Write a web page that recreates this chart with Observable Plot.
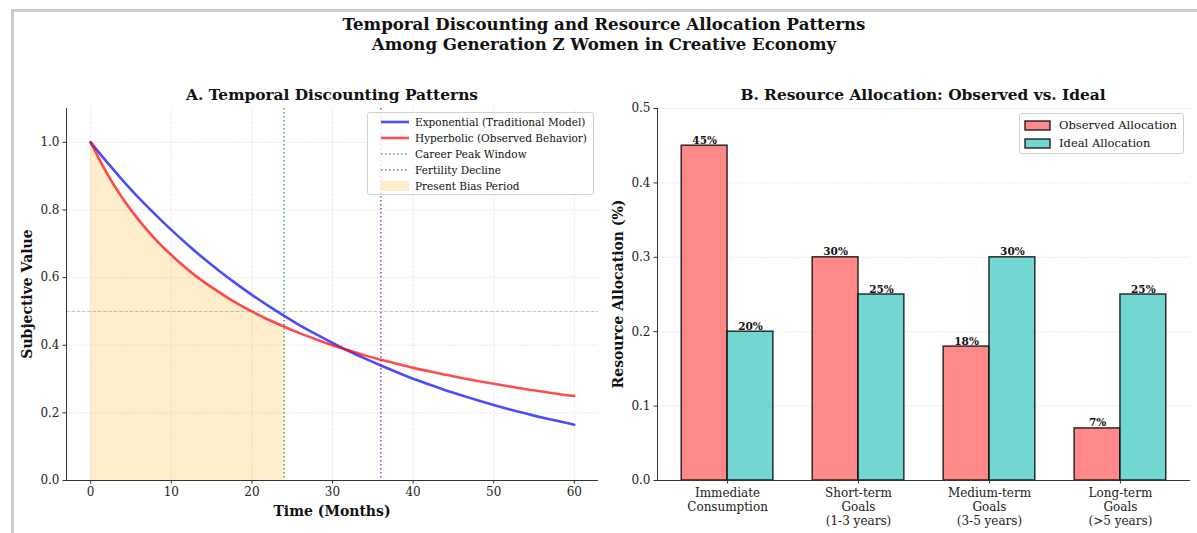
<!DOCTYPE html>
<html>
<head>
<meta charset="utf-8">
<script src="https://cdn.jsdelivr.net/npm/d3@7"></script>
<script src="https://cdn.jsdelivr.net/npm/@observablehq/plot@0.6"></script>
<style>
  body { margin: 0; background: #fff; font-family: "DejaVu Serif", serif; color: #111; }
  #fig { position: relative; width: 1197px; height: 533px; overflow: hidden; background: #fff; }
  .abs { position: absolute; white-space: nowrap; }
  .c { transform: translate(-50%, -50%); }
  .rot { transform: translate(-50%, -50%) rotate(-90deg); }
  .bold { font-weight: bold; }
  .legend { position: absolute; background: rgba(255,255,255,0.8); border: 1px solid #d0d0d0; border-radius: 3px; box-sizing: border-box; }
  .legend .row { position: absolute; left: 0; display: flex; align-items: center; white-space: nowrap; }
  .legend svg { display: block; }
  svg.plot { position: absolute; top: 0; }
</style>
</head>
<body>
<div id="fig"></div>
<script>
// ---------- Data: Panel A ----------
const months = [0,2,4,6,8,10,12,14,16,18,20,22,24,26,28,30,32,34,36,38,40,42,44,46,48,50,52,54,56,58,60];
const exponentialValues = [1.000,0.942,0.887,0.835,0.787,0.741,0.698,0.657,0.619,0.583,0.549,0.517,0.487,0.458,0.432,0.407,0.383,0.361,0.340,0.320,0.301,0.284,0.267,0.252,0.237,0.223,0.210,0.198,0.186,0.176,0.165];
const hyperbolicValues  = [1.000,0.909,0.833,0.769,0.714,0.667,0.625,0.588,0.556,0.526,0.500,0.476,0.455,0.435,0.417,0.400,0.385,0.370,0.357,0.345,0.333,0.323,0.313,0.303,0.294,0.286,0.278,0.270,0.263,0.256,0.250];
const careerPeakMonth = [24];
const fertilityDeclineMonth = [36];
const presentBiasEnd = 24;
const referenceValue = [0.5];
const timeTicks = [0,10,20,30,40,50,60];
const valueTicks = [0,0.2,0.4,0.6,0.8,1.0];

// ---------- Data: Panel B ----------
const categories = ["Immediate\nConsumption", "Short-term\nGoals\n(1-3 years)", "Medium-term\nGoals\n(3-5 years)", "Long-term\nGoals\n(>5 years)"];
const observedAllocation = [0.45, 0.30, 0.18, 0.07];
const idealAllocation = [0.20, 0.25, 0.30, 0.25];
const allocationTicks = [0,0.1,0.2,0.3,0.4,0.5];

// ---------- Styles ----------
const BAR_W = 0.35;
const FONT = "DejaVu Serif";
const gridStyle = { stroke: "#b0b0b0", strokeOpacity: 0.35, strokeWidth: 0.8, strokeDasharray: "3,1.5" };
const fig = document.getElementById("fig");

const curveData = months.map((t, i) => ({ t, exp: exponentialValues[i], hyp: hyperbolicValues[i] }));

const left = Plot.plot({
  width: 600, height: 533,
  marginLeft: 66, marginRight: 2, marginTop: 108, marginBottom: 53,
  x: { domain: [-3, 63] },
  y: { domain: [0, 1.1] },
  style: { fontFamily: FONT, fontSize: "12px", color: "#222", background: "transparent", overflow: "visible" },
  marks: [
    Plot.gridX(timeTicks, gridStyle),
    Plot.gridY(valueTicks, gridStyle),
    Plot.areaY(curveData.filter(d => d.t <= presentBiasEnd), { x: "t", y: "hyp", fill: "orange", fillOpacity: 0.2, curve: "natural" }),
    Plot.ruleY(referenceValue, { stroke: "gray", strokeOpacity: 0.5, strokeWidth: 1, strokeDasharray: "3.7,1.6" }),
    Plot.ruleX(careerPeakMonth, { stroke: "green", strokeOpacity: 0.7, strokeWidth: 1.5, strokeDasharray: "1.5,2.5" }),
    Plot.ruleX(fertilityDeclineMonth, { stroke: "purple", strokeOpacity: 0.7, strokeWidth: 1.5, strokeDasharray: "1.5,2.5" }),
    Plot.line(curveData, { x: "t", y: "exp", stroke: "blue", strokeOpacity: 0.7, strokeWidth: 2.6, curve: "natural" }),
    Plot.line(curveData, { x: "t", y: "hyp", stroke: "red", strokeOpacity: 0.7, strokeWidth: 2.6, curve: "natural" }),
    Plot.axisX({ ticks: timeTicks, tickFormat: d3.format("d"), tickSize: 3.5, tickPadding: 3.5, label: null, stroke: "#333" }),
    Plot.axisY({ ticks: valueTicks, tickFormat: d3.format(".1f"), tickSize: 3.5, tickPadding: 3.5, label: null, stroke: "#333" }),
    Plot.ruleX([-3], { stroke: "#333", strokeWidth: 1 }),
    Plot.ruleY([0], { stroke: "#333", strokeWidth: 1 })
  ]
});
left.classList.add("plot");
left.style.left = "0px";
fig.appendChild(left);

const barData = categories.flatMap((c, i) => [
  { i, series: "Observed Allocation", v: observedAllocation[i], off: -1 },
  { i, series: "Ideal Allocation", v: idealAllocation[i], off: 0 }
]);
const barColor = { "Observed Allocation": "#FF6B6B", "Ideal Allocation": "#4ECDC4" };

const right = Plot.plot({
  width: 597, height: 533,
  marginLeft: 57, marginRight: 7, marginTop: 108, marginBottom: 53,
  x: { domain: [-0.535, 3.535] },
  y: { domain: [0, 0.5] },
  style: { fontFamily: FONT, fontSize: "12px", color: "#222", background: "transparent", overflow: "visible" },
  marks: [
    Plot.gridY(allocationTicks, gridStyle),
    Plot.rect(barData, {
      x1: d => d.i + d.off * BAR_W, x2: d => d.i + (d.off + 1) * BAR_W,
      y1: 0, y2: "v",
      fill: d => barColor[d.series], fillOpacity: 0.8,
      stroke: "black", strokeOpacity: 0.8, strokeWidth: 1.5
    }),
    Plot.text(barData, {
      x: d => d.i + (d.off + 0.5) * BAR_W, y: "v",
      text: d => `${Math.round(d.v * 100)}%`,
      lineAnchor: "bottom", dy: -2, fontWeight: "bold", fontSize: 10.5, fill: "#111"
    }),
    Plot.axisX({ ticks: [0,1,2,3], tickFormat: i => categories[i], tickSize: 3.5, tickPadding: 3.5, lineHeight: 1.15, label: null, stroke: "#333" }),
    Plot.axisY({ ticks: allocationTicks, tickFormat: d3.format(".1f"), tickSize: 3.5, tickPadding: 3.5, label: null, stroke: "#333" }),
    Plot.ruleX([-0.535], { stroke: "#333", strokeWidth: 1 }),
    Plot.ruleY([0], { stroke: "#333", strokeWidth: 1 })
  ]
});
right.classList.add("plot");
right.style.left = "600px";
fig.appendChild(right);

// ---------- Text & decorations ----------
function addText(txt, x, y, cls, size) {
  const el = document.createElement("div");
  el.className = "abs " + cls;
  el.style.left = x + "px"; el.style.top = y + "px";
  el.style.fontSize = size + "px";
  el.textContent = txt;
  fig.appendChild(el);
  return el;
}
// border
const border = document.createElement("div");
border.className = "abs";
Object.assign(border.style, { left: "11px", top: "9px", width: "1200px", height: "600px", borderTop: "3px solid #cccccc", borderLeft: "3px solid #cccccc" });
fig.appendChild(border);

addText("Temporal Discounting and Resource Allocation Patterns", 604, 24, "c bold", 16.6);
addText("Among Generation Z Women in Creative Economy", 604, 44, "c bold", 16.6);
addText("A. Temporal Discounting Patterns", 332, 95, "c bold", 15.4);
addText("B. Resource Allocation: Observed vs. Ideal", 923, 95, "c bold", 15.4);
addText("Subjective Value", 27, 294, "rot bold", 14);
addText("Time (Months)", 332, 511, "c bold", 14);
addText("Resource Allocation (%)", 618, 294, "rot bold", 14);

// legends
function legend(box, rows, fontSize) {
  const lg = document.createElement("div");
  lg.className = "legend";
  Object.assign(lg.style, { left: box.x + "px", top: box.y + "px", width: box.w + "px", height: box.h + "px", fontSize: fontSize + "px" });
  rows.forEach((r, k) => {
    const row = document.createElement("div");
    row.className = "row";
    row.style.top = (box.first + k * box.step) + "px";
    row.style.transform = "translateY(-50%)";
    row.style.left = box.pad + "px";
    row.innerHTML = `<svg width="${box.sw}" height="12" style="margin-right:${box.gap}px">${r.sw}</svg><span>${r.label}</span>`;
    lg.appendChild(row);
  });
  fig.appendChild(lg);
}
legend({ x: 367, y: 112, w: 227, h: 83, first: 9, step: 16, pad: 13, sw: 28, gap: 6 }, [
  { label: "Exponential (Traditional Model)", sw: `<line x1="0" x2="28" y1="6" y2="6" stroke="blue" stroke-opacity="0.7" stroke-width="2.6"/>` },
  { label: "Hyperbolic (Observed Behavior)", sw: `<line x1="0" x2="28" y1="6" y2="6" stroke="red" stroke-opacity="0.7" stroke-width="2.6"/>` },
  { label: "Career Peak Window", sw: `<line x1="0" x2="28" y1="6" y2="6" stroke="green" stroke-opacity="0.7" stroke-width="1.5" stroke-dasharray="1.5,2.5"/>` },
  { label: "Fertility Decline", sw: `<line x1="0" x2="28" y1="6" y2="6" stroke="purple" stroke-opacity="0.7" stroke-width="1.5" stroke-dasharray="1.5,2.5"/>` },
  { label: "Present Bias Period", sw: `<rect x="0" y="1" width="28" height="10" fill="orange" fill-opacity="0.2"/>` }
], 10.5);
legend({ x: 1019, y: 113, w: 165, h: 41, first: 11, step: 17.5, pad: 4, sw: 27, gap: 8 }, [
  { label: "Observed Allocation", sw: `<rect x="1" y="2" width="25" height="9" fill="#FF6B6B" fill-opacity="0.8" stroke="black" stroke-opacity="0.8" stroke-width="1.5"/>` },
  { label: "Ideal Allocation", sw: `<rect x="1" y="2" width="25" height="9" fill="#4ECDC4" fill-opacity="0.8" stroke="black" stroke-opacity="0.8" stroke-width="1.5"/>` }
], 11.5);
</script>
</body>
</html>
